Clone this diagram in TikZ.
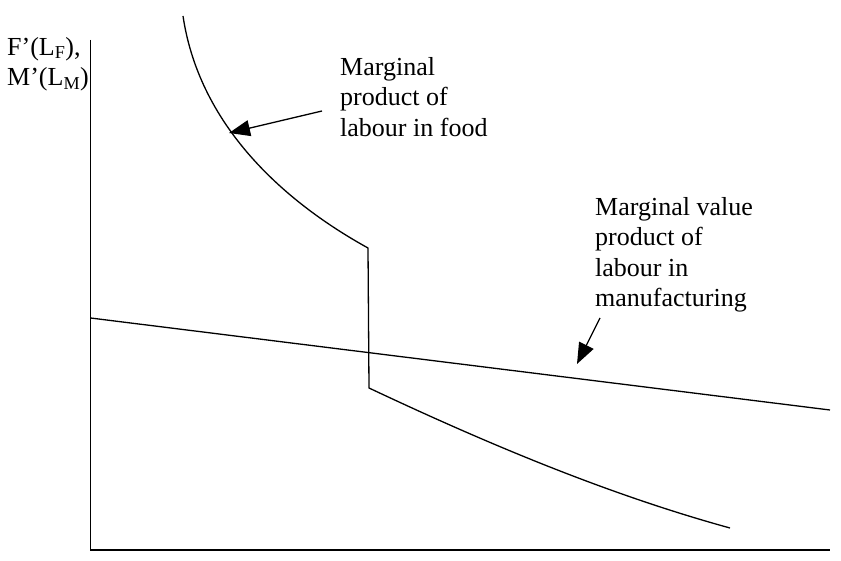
\documentclass[tikz,border=0pt]{standalone}
\usepackage{fontspec}
\setmainfont{Liberation Serif}
\usetikzlibrary{arrows.meta}
\begin{document}
\begin{tikzpicture}[x=1pt,y=-1pt,
  curve/.style={line width=1.3pt,black},
  axisline/.style={line width=1.3pt,black},
  pointer/.style={line width=1.3pt,-{Triangle[length=21pt,width=16pt]}},
  lbl/.style={font=\fontsize{26}{30.5}\selectfont,align=left,inner sep=0pt,anchor=north west}]
\useasboundingbox (0,0) rectangle (841,561);
% axes
\coordinate (otop) at (90.5,40);
\coordinate (o) at (90.5,550);
\coordinate (xend) at (830,550);
\draw[axisline] (otop) -- (o) -- (xend);
% y label
\node[lbl] (ylab) at (7,37) {F’(L\textsubscript{F}),\\M’(L\textsubscript{M})};
% food marginal product
\coordinate (f0) at (183,16);
\coordinate (f1) at (368,248);
\coordinate (f2) at (369,388);
\coordinate (f3) at (730,528);
\draw[curve] (f0) .. controls (200,130) and (290,205) .. (f1) -- (f2)
  .. controls (490,445) and (610,495) .. (f3);
% manufacturing MVP
\coordinate (m0) at (90.5,318);
\coordinate (m1) at (830,410);
\draw[curve] (m0) -- (m1);
% labels
\node[lbl] (mpf) at (340,57) {Marginal\\product of\\labour in food};
\node[lbl] (mvp) at (595,197) {Marginal value\\product of\\labour in\\manufacturing};
% pointers
\coordinate (a1s) at (322,111);
\coordinate (a1e) at (229,133);
\draw[pointer] (a1s) -- (a1e);
\coordinate (a2s) at (600,318);
\coordinate (a2e) at (577,364);
\draw[pointer] (a2s) -- (a2e);
\end{tikzpicture}
\end{document}
